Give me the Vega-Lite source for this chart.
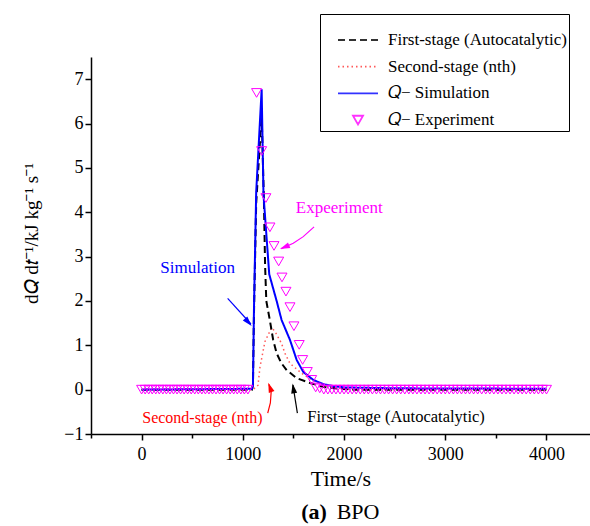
{
  "$schema": "https://vega.github.io/schema/vega-lite/v6.json",
  "width": 499,
  "height": 377,
  "autosize": {"type": "none"},
  "padding": {"left": 91, "top": 57, "right": 0, "bottom": 92},
  "background": "white",
  "config": {"view": {"stroke": null}, "font": "Liberation Serif",
    "legend": {
      "orient": "none", "legendX": 229, "legendY": -43, "direction": "vertical",
      "titleFontSize": 12, "titlePadding": 3.5,
      "padding": 2, "strokeColor": "black", "fillColor": "white",
      "symbolSize": 100, "symbolStrokeWidth": 1.8, "symbolOffset": 27.5,
      "labelOffset": 21.5, "rowPadding": 8.7,
      "labelFont": "Liberation Serif", "labelFontSize": 17, "labelColor": "black", "labelLimit": 0
    }
  },
  "datasets": {
    "curves": [
      {"s":"F","t":0,"q":0},{"s":"F","t":1090,"q":0},{"s":"F","t":1100,"q":0.1},{"s":"F","t":1110,"q":1.7},{"s":"F","t":1132,"q":4.2},{"s":"F","t":1186,"q":6.2},{"s":"F","t":1208,"q":4.3},{"s":"F","t":1220,"q":2.8},{"s":"F","t":1232,"q":2.0},{"s":"F","t":1268,"q":1.55},{"s":"F","t":1300,"q":1.12},{"s":"F","t":1334,"q":0.82},{"s":"F","t":1380,"q":0.6},{"s":"F","t":1433,"q":0.44},{"s":"F","t":1532,"q":0.26},{"s":"F","t":1663,"q":0.15},{"s":"F","t":1800,"q":0.06},{"s":"F","t":1950,"q":0.02},{"s":"F","t":2100,"q":0},{"s":"F","t":4000,"q":0},
      {"s":"S","t":0,"q":0},{"s":"S","t":1100,"q":0},{"s":"S","t":1150,"q":0.1},{"s":"S","t":1169,"q":0.5},{"s":"S","t":1218,"q":1.08},{"s":"S","t":1285,"q":1.4},{"s":"S","t":1318,"q":1.31},{"s":"S","t":1383,"q":1.04},{"s":"S","t":1416,"q":0.82},{"s":"S","t":1466,"q":0.59},{"s":"S","t":1581,"q":0.37},{"s":"S","t":1680,"q":0.22},{"s":"S","t":1800,"q":0.1},{"s":"S","t":1950,"q":0.03},{"s":"S","t":2100,"q":0},{"s":"S","t":4000,"q":0},
      {"s":"Q","t":0,"q":0},{"s":"Q","t":1090,"q":0.02},{"s":"Q","t":1100,"q":0.1},{"s":"Q","t":1110,"q":1.8},{"s":"Q","t":1132,"q":4.45},{"s":"Q","t":1186,"q":6.77},{"s":"Q","t":1204,"q":4.4},{"s":"Q","t":1261,"q":2.6},{"s":"Q","t":1334,"q":2.0},{"s":"Q","t":1383,"q":1.57},{"s":"Q","t":1466,"q":1.12},{"s":"Q","t":1532,"q":0.67},{"s":"Q","t":1597,"q":0.4},{"s":"Q","t":1696,"q":0.22},{"s":"Q","t":1800,"q":0.12},{"s":"Q","t":1893,"q":0.08},{"s":"Q","t":2000,"q":0.05},{"s":"Q","t":2500,"q":0.03},{"s":"Q","t":4000,"q":0.02},
      {"s":"E","t":0,"q":0},{"s":"E","t":35,"q":0},{"s":"E","t":70,"q":0},{"s":"E","t":105,"q":0},{"s":"E","t":140,"q":0},{"s":"E","t":175,"q":0},{"s":"E","t":210,"q":0},{"s":"E","t":245,"q":0},{"s":"E","t":280,"q":0},{"s":"E","t":315,"q":0},{"s":"E","t":350,"q":0},{"s":"E","t":385,"q":0},{"s":"E","t":420,"q":0},{"s":"E","t":455,"q":0},{"s":"E","t":490,"q":0},{"s":"E","t":525,"q":0},{"s":"E","t":560,"q":0},{"s":"E","t":595,"q":0},{"s":"E","t":630,"q":0},{"s":"E","t":665,"q":0},{"s":"E","t":700,"q":0},{"s":"E","t":735,"q":0},{"s":"E","t":770,"q":0},{"s":"E","t":805,"q":0},{"s":"E","t":840,"q":0},{"s":"E","t":875,"q":0},{"s":"E","t":910,"q":0},{"s":"E","t":945,"q":0},{"s":"E","t":980,"q":0},{"s":"E","t":1015,"q":0},{"s":"E","t":1050,"q":0},
      {"s":"E","t":1136,"q":6.69},{"s":"E","t":1186,"q":5.38},{"s":"E","t":1228,"q":4.32},{"s":"E","t":1268,"q":3.66},{"s":"E","t":1308,"q":3.24},{"s":"E","t":1354,"q":2.89},{"s":"E","t":1387,"q":2.53},{"s":"E","t":1426,"q":2.21},{"s":"E","t":1466,"q":1.86},{"s":"E","t":1505,"q":1.43},{"s":"E","t":1557,"q":1.01},{"s":"E","t":1591,"q":0.67},{"s":"E","t":1637,"q":0.4},{"s":"E","t":1680,"q":0.22},
      {"s":"E","t":1720,"q":0.05},{"s":"E","t":1760,"q":0.03},{"s":"E","t":1800,"q":0},{"s":"E","t":1840,"q":0},{"s":"E","t":1880,"q":0},{"s":"E","t":1920,"q":0},{"s":"E","t":1960,"q":0},{"s":"E","t":2000,"q":0},{"s":"E","t":2040,"q":0},{"s":"E","t":2080,"q":0},{"s":"E","t":2120,"q":0},{"s":"E","t":2160,"q":0},{"s":"E","t":2200,"q":0},{"s":"E","t":2240,"q":0},{"s":"E","t":2280,"q":0},{"s":"E","t":2320,"q":0},{"s":"E","t":2360,"q":0},{"s":"E","t":2400,"q":0},{"s":"E","t":2440,"q":0},{"s":"E","t":2480,"q":0},{"s":"E","t":2520,"q":0},{"s":"E","t":2560,"q":0},{"s":"E","t":2600,"q":0},{"s":"E","t":2640,"q":0},{"s":"E","t":2680,"q":0},{"s":"E","t":2720,"q":0},{"s":"E","t":2760,"q":0},{"s":"E","t":2800,"q":0},{"s":"E","t":2840,"q":0},{"s":"E","t":2880,"q":0},{"s":"E","t":2920,"q":0},{"s":"E","t":2960,"q":0},{"s":"E","t":3000,"q":0},{"s":"E","t":3040,"q":0},{"s":"E","t":3080,"q":0},{"s":"E","t":3120,"q":0},{"s":"E","t":3160,"q":0},{"s":"E","t":3200,"q":0},{"s":"E","t":3240,"q":0},{"s":"E","t":3280,"q":0},{"s":"E","t":3320,"q":0},{"s":"E","t":3360,"q":0},{"s":"E","t":3400,"q":0},{"s":"E","t":3440,"q":0},{"s":"E","t":3480,"q":0},{"s":"E","t":3520,"q":0},{"s":"E","t":3560,"q":0},{"s":"E","t":3600,"q":0},{"s":"E","t":3640,"q":0},{"s":"E","t":3680,"q":0},{"s":"E","t":3720,"q":0},{"s":"E","t":3760,"q":0},{"s":"E","t":3800,"q":0},{"s":"E","t":3840,"q":0},{"s":"E","t":3880,"q":0},{"s":"E","t":3920,"q":0},{"s":"E","t":3960,"q":0},{"s":"E","t":4000,"q":0}
    ],
    "arrows": [
      {"k":"sim","i":0,"t":850,"q":2.06},{"k":"sim","i":1,"t":1080,"q":1.48},
      {"k":"exp","i":0,"t":1704,"q":3.67},{"k":"exp","i":1,"t":1597,"q":3.45},{"k":"exp","i":2,"t":1498,"q":3.3},{"k":"exp","i":3,"t":1380,"q":3.18},
      {"k":"sec","i":0,"t":1246,"q":-0.53},{"k":"sec","i":1,"t":1272,"q":-0.3},{"k":"sec","i":2,"t":1280,"q":-0.05},{"k":"sec","i":3,"t":1258,"q":0.12},
      {"k":"fir","i":0,"t":1539,"q":-0.53},{"k":"fir","i":1,"t":1495,"q":0.1}
    ],
    "heads": [
      {"k":"sim","t":1087,"q":1.435},
      {"k":"exp","t":1367,"q":3.17},
      {"k":"sec","t":1251,"q":0.157},
      {"k":"fir","t":1492,"q":0.14}
    ],
    "notes": [
      {"k":"sim","t":553,"q":2.74,"txt":"Simulation"},
      {"k":"exp","t":1953,"q":4.1,"txt":"Expeeriment"},
      {"k":"sec","t":601,"q":-0.63,"txt":"Second-stage (nth)"},
      {"k":"fir","t":2514,"q":-0.62,"txt":"First−stage (Autocatalytic)"},
      {"k":"a","t":1831,"q":-2.76,"txt":"(a)"},
      {"k":"bpo","t":1927,"q":-2.76,"txt":"BPO"}
    ]
  },
  "layer": [
    {
      "data": {"name": "curves"},
      "transform": [{"filter": "datum.s === 'S'"}],
      "mark": {"type": "line", "strokeWidth": 1.5, "opacity": 0.8},
      "encoding": {
        "x": {"field": "t", "type": "quantitative",
          "scale": {"domain": [-500, 4430], "nice": false, "zero": false},
          "axis": {"title": "Time/s", "values": [-500,0,500,1000,1500,2000,2500,3000,3500,4000],
            "format": "d",
            "labelExpr": "datum.value % 1000 === 0 ? datum.label : ''",
            "tickSize": {"condition": {"test": "datum.value % 1000 === 0", "value": 6}, "value": 4},
            "grid": false, "labelFont": "Liberation Serif", "labelFontSize": 18, "labelColor": "black",
            "labelPadding": 5, "labelFlush": false, "labelOverlap": false,
            "titleFont": "Liberation Serif", "titleFontSize": 22, "titleFontWeight": "normal", "titleColor": "black", "titlePadding": 5,
            "domainColor": "black", "domainWidth": 1.5, "tickColor": "black", "tickWidth": 1.5}},
        "y": {"field": "q", "type": "quantitative",
          "scale": {"domain": [-1, 7.5], "nice": false, "zero": false},
          "axis": {"title": "d𝑄 d𝑡⁻¹/kJ kg⁻¹ s⁻¹",
            "values": [-1,-0.5,0,0.5,1,1.5,2,2.5,3,3.5,4,4.5,5,5.5,6,6.5,7,7.5],
            "format": "d",
            "labelExpr": "datum.value % 1 === 0 ? datum.label : ''",
            "tickSize": {"condition": {"test": "datum.value % 1 === 0", "value": 6}, "value": 4},
            "grid": false, "labelFont": "Liberation Serif", "labelFontSize": 18, "labelColor": "black",
            "labelPadding": 2, "labelFlush": false, "labelOverlap": false,
            "titleFont": "Liberation Serif", "titleFontSize": 19, "titleFontWeight": "normal", "titleColor": "black",
            "titlePadding": 22, "titleY": 176,
            "domainColor": "black", "domainWidth": 1.5, "tickColor": "black", "tickWidth": 1.5}},
        "color": {"field": "s", "type": "nominal",
          "scale": {"domain": ["F","S","Q","E"], "range": ["#000000","#ff3030","#0000ff","#ff00ff"]},
          "legend": {
            "title": " ",
            "labelExpr": "datum.label === 'F' ? 'First-stage (Autocatalytic)  ' : datum.label === 'S' ? 'Second-stage (nth)' : datum.label === 'Q' ? '𝑄− Simulation' : '𝑄− Experiment'"
          }},
        "strokeDash": {"field": "s", "type": "nominal",
          "scale": {"domain": ["F","S","Q","E"], "range": [[7,4],[1.5,3],[1,0],[1,0]]},
          "legend": {
            "title": " ",
            "labelExpr": "datum.label === 'F' ? 'First-stage (Autocatalytic)  ' : datum.label === 'S' ? 'Second-stage (nth)' : datum.label === 'Q' ? '𝑄− Simulation' : '𝑄− Experiment'"
          }}
      }
    },
    {
      "data": {"name": "curves"},
      "transform": [{"filter": "datum.s === 'F'"}],
      "mark": {"type": "line", "strokeWidth": 2},
      "encoding": {
        "x": {"field": "t", "type": "quantitative"},
        "y": {"field": "q", "type": "quantitative"},
        "color": {"field": "s", "type": "nominal"},
        "strokeDash": {"field": "s", "type": "nominal"}
      }
    },
    {
      "data": {"name": "curves"},
      "transform": [{"filter": "datum.s === 'Q'"}],
      "mark": {"type": "line", "strokeWidth": 2},
      "encoding": {
        "x": {"field": "t", "type": "quantitative"},
        "y": {"field": "q", "type": "quantitative"},
        "color": {"field": "s", "type": "nominal"},
        "strokeDash": {"field": "s", "type": "nominal"}
      }
    },
    {
      "data": {"name": "curves"},
      "transform": [{"filter": "datum.s === 'E'"}],
      "mark": {"type": "point", "filled": false, "size": 100, "strokeWidth": 1, "opacity": 1},
      "encoding": {
        "x": {"field": "t", "type": "quantitative"},
        "y": {"field": "q", "type": "quantitative"},
        "color": {"field": "s", "type": "nominal"},
        "shape": {"field": "s", "type": "nominal",
          "scale": {"domain": ["F","S","Q","E"], "range": ["M-4,0L4,0","M-4,0L4,0","M-4,0L4,0","triangle-down"]},
          "legend": {
            "title": " ",
            "labelExpr": "datum.label === 'F' ? 'First-stage (Autocatalytic)  ' : datum.label === 'S' ? 'Second-stage (nth)' : datum.label === 'Q' ? '𝑄− Simulation' : '𝑄− Experiment'"
          }}
      }
    },
    {
      "data": {"name": "arrows"},
      "mark": {"type": "line", "strokeWidth": 1.2},
      "encoding": {
        "x": {"field": "t", "type": "quantitative"},
        "y": {"field": "q", "type": "quantitative"},
        "detail": {"field": "k"},
        "order": {"field": "i"},
        "stroke": {"field": "k", "type": "nominal",
          "scale": {"domain": ["sim","exp","sec","fir"], "range": ["#0000ff","#ff00ff","#ff0000","#000000"]},
          "legend": null}
      }
    },
    {
      "data": {"name": "heads"},
      "transform": [{"filter": "datum.k === 'sim'"}],
      "mark": {"type": "point", "shape": "M0,0L0.6,2L-0.6,2Z", "size": 100, "filled": true, "color": "#0000ff", "opacity": 1, "angle": 139},
      "encoding": {"x": {"field": "t", "type": "quantitative"}, "y": {"field": "q", "type": "quantitative"}}
    },
    {
      "data": {"name": "heads"},
      "transform": [{"filter": "datum.k === 'exp'"}],
      "mark": {"type": "point", "shape": "M0,0L0.6,2L-0.6,2Z", "size": 100, "filled": true, "color": "#ff00ff", "opacity": 1, "angle": 247},
      "encoding": {"x": {"field": "t", "type": "quantitative"}, "y": {"field": "q", "type": "quantitative"}}
    },
    {
      "data": {"name": "heads"},
      "transform": [{"filter": "datum.k === 'sec'"}],
      "mark": {"type": "point", "shape": "M0,0L0.6,2L-0.6,2Z", "size": 100, "filled": true, "color": "#ff0000", "opacity": 1, "angle": 340},
      "encoding": {"x": {"field": "t", "type": "quantitative"}, "y": {"field": "q", "type": "quantitative"}}
    },
    {
      "data": {"name": "heads"},
      "transform": [{"filter": "datum.k === 'fir'"}],
      "mark": {"type": "point", "shape": "M0,0L0.6,2L-0.6,2Z", "size": 100, "filled": true, "color": "#000000", "opacity": 1, "angle": 351},
      "encoding": {"x": {"field": "t", "type": "quantitative"}, "y": {"field": "q", "type": "quantitative"}}
    },
    {
      "data": {"name": "notes"},
      "transform": [{"filter": "datum.k === 'sim'"}],
      "mark": {"type": "text", "font": "Liberation Serif", "fontSize": 17, "color": "#0000ff", "align": "center", "baseline": "middle"},
      "encoding": {"x": {"field": "t", "type": "quantitative"}, "y": {"field": "q", "type": "quantitative"}, "text": {"field": "txt"}}
    },
    {
      "data": {"name": "notes"},
      "transform": [{"filter": "datum.k === 'exp'"}],
      "mark": {"type": "text", "font": "Liberation Serif", "fontSize": 17, "color": "#ff00ff", "align": "center", "baseline": "middle"},
      "encoding": {"x": {"field": "t", "type": "quantitative"}, "y": {"field": "q", "type": "quantitative"}, "text": {"field": "txt"}}
    },
    {
      "data": {"name": "notes"},
      "transform": [{"filter": "datum.k === 'sec'"}],
      "mark": {"type": "text", "font": "Liberation Serif", "fontSize": 16, "color": "#ff0000", "align": "center", "baseline": "middle"},
      "encoding": {"x": {"field": "t", "type": "quantitative"}, "y": {"field": "q", "type": "quantitative"}, "text": {"field": "txt"}}
    },
    {
      "data": {"name": "notes"},
      "transform": [{"filter": "datum.k === 'fir'"}],
      "mark": {"type": "text", "font": "Liberation Serif", "fontSize": 16.5, "color": "#000000", "align": "center", "baseline": "middle"},
      "encoding": {"x": {"field": "t", "type": "quantitative"}, "y": {"field": "q", "type": "quantitative"}, "text": {"field": "txt"}}
    },
    {
      "data": {"name": "notes"},
      "transform": [{"filter": "datum.k === 'a'"}],
      "mark": {"type": "text", "font": "Liberation Serif", "fontSize": 22, "fontWeight": "bold", "color": "#000000", "align": "right", "baseline": "middle"},
      "encoding": {"x": {"field": "t", "type": "quantitative"}, "y": {"field": "q", "type": "quantitative"}, "text": {"field": "txt"}}
    },
    {
      "data": {"name": "notes"},
      "transform": [{"filter": "datum.k === 'bpo'"}],
      "mark": {"type": "text", "font": "Liberation Serif", "fontSize": 22, "color": "#000000", "align": "left", "baseline": "middle"},
      "encoding": {"x": {"field": "t", "type": "quantitative"}, "y": {"field": "q", "type": "quantitative"}, "text": {"field": "txt"}}
    }
  ]
}
